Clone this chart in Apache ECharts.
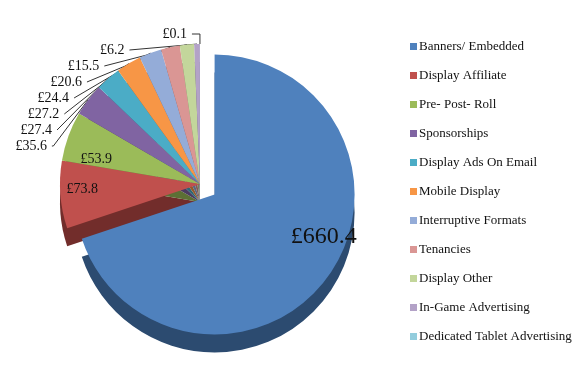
<!DOCTYPE html>
<html><head><meta charset="utf-8">
<script src="https://cdn.jsdelivr.net/npm/echarts@6/dist/echarts.min.js"></script>
<style>html,body{margin:0;padding:0;background:#fff}#c{width:584px;height:366px}</style>
</head><body><div id="c"></div>
<script>
const categories = ['Banners/ Embedded','Display Affiliate','Pre- Post- Roll','Sponsorships','Display Ads On Email','Mobile Display','Interruptive Formats','Tenancies','Display Other','In-Game Advertising','Dedicated Tablet Advertising'];
const values = [660.4, 73.8, 53.9, 35.6, 27.4, 27.2, 24.4, 20.6, 15.5, 6.2, 0.1];
const colors = ['#4F81BD','#C0504D','#9BBB59','#8064A2','#4BACC6','#F79646','#94ACD8','#DA9694','#C3D69B','#B3A2C7','#93CDDD'];
const sideColors = ['#2C4B70','#722D2B','#5C7035','#4B3B60','#2C6675','#93592A','#586680','#825958','#74805C','#6A6076','#577A83'];
const insidePad = {0:[0,0,0,100], 1:[0,90,0,0], 2:[0,70,0,0]};

const chart = echarts.init(document.getElementById('c'));
const font = "'Liberation Serif', serif";
const topData = categories.map((n,i)=>({
  name:n, value:values[i], selected: i===0,
  itemStyle:{color:colors[i]},
  label: insidePad[i] ? {position:'inside', fontSize: i===0 ? 24 : 14, color:'#111', padding:insidePad[i]} : {position:'outside'},
  labelLine: {show: !insidePad[i]}
}));
const sideData = categories.map((n,i)=>({
  name:n, value:values[i], selected: i===0,
  itemStyle:{color:sideColors[i]}
}));
chart.setOption({
  animation:false,
  color: colors,
  legend:{
    orient:'vertical', left:405, top:35, icon:'rect', itemWidth:7, itemHeight:7, itemGap:16,
    textStyle:{fontFamily:font, fontSize:13, color:'#111', padding:[0,0,0,-3]},
    data: categories
  },
  series:[
    {type:'pie', name:'top', z:3, center:[200,184], radius:140, startAngle:90, clockwise:true,
     selectedMode:'single', selectedOffset:18, avoidLabelOverlap:true,
     label:{fontFamily:font, fontSize:14, color:'#111', formatter: p=>'£'+p.value},
     labelLine:{length:10, length2:8, lineStyle:{color:'#333', width:1}},
     emphasis:{disabled:true}, data: topData},
    {type:'pie', name:'side', z:2, silent:true, center:[200,202], radius:140, startAngle:90, clockwise:true,
     selectedMode:'single', selectedOffset:18,
     label:{show:false}, labelLine:{show:false}, emphasis:{disabled:true}, data: sideData}
  ]
});
</script></body></html>
